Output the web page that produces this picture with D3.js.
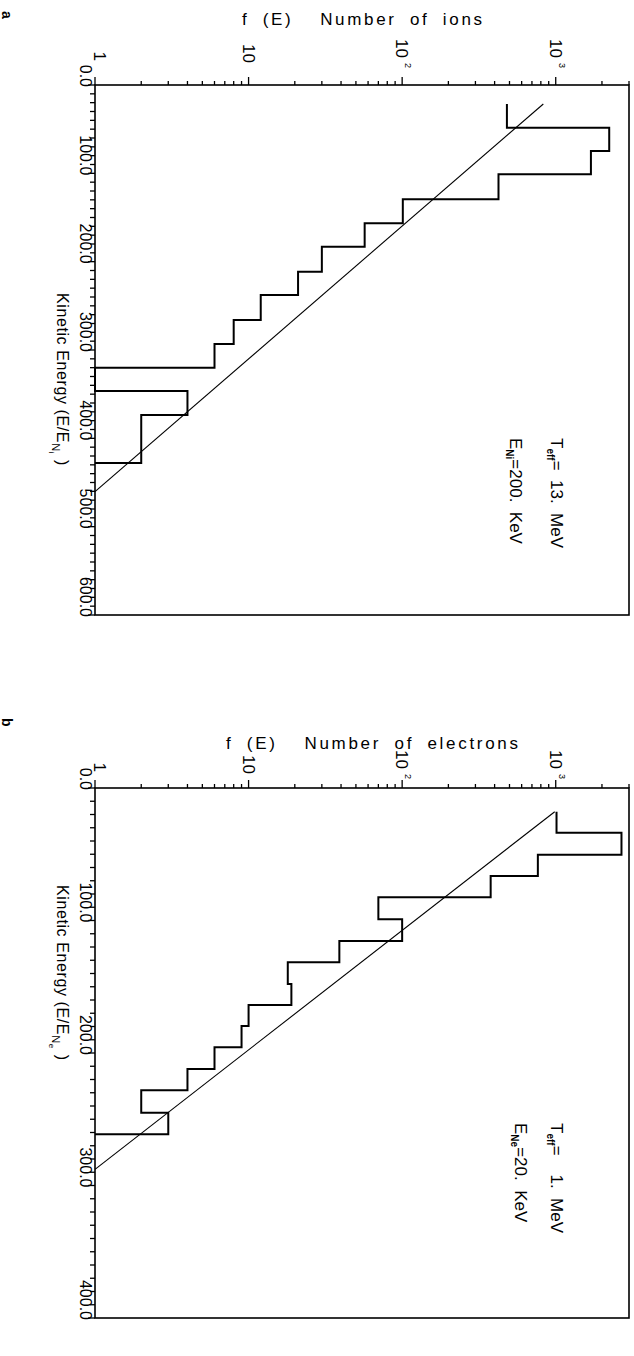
<!DOCTYPE html>
<html>
<head>
<meta charset="utf-8">
<script src="https://cdn.jsdelivr.net/npm/d3@7"></script>
<style>
  body { margin: 0; background: #fff; }
  svg { display: block; }
  text { font-family: "Liberation Sans", Arial, sans-serif; fill: #000; white-space: pre; }
</style>
</head>
<body>
<div id="chart"></div>
<script>
// ---- data ----
// panel a: ions, energy in units of E/E_Ni
const ionEdges = [21.5, 48.3, 74.7, 101.1, 129.4, 156.6, 183.1, 211.4, 237.7, 266.0, 293.2, 320.0, 346.4, 373.6, 400.8, 428.0];
const ionCounts = [481, 2230, 1695, 424, 101, 57, 30, 21, 12, 8, 6, 0, 4, 2, 2];
const ionFit = [[21.5, 830], [460.4, 1]];

// panel b: electrons, energy in units of E/E_Ne
const elecEdges = [17.9, 33.7, 50.3, 66.4, 82.5, 99.1, 115.5, 131.5, 147.9, 163.8, 179.6, 195.7, 212.1, 228.2, 245.1, 261.4];
const elecCounts = [1012, 2680, 765, 377, 70, 100, 39, 18, 19, 10, 9, 6, 4, 2, 3];
const elecFit = [[17.9, 985], [287.8, 1]];

const countTicks = [1, 10, 100, 1000];
const ionEnergyTicks = [0, 100, 200, 300, 400, 500, 600];
const elecEnergyTicks = [0, 100, 200, 300, 400];

const W = 634, H = 1356;
const svg = d3.select('#chart').append('svg')
  .attr('width', W)
  .attr('height', H);

function drawPanel(cfg) {
  const x = d3.scaleLog().domain([1, 3000]).range([95, 629]);
  const y = d3.scaleLinear().domain([0, cfg.eMax]).range([cfg.top, cfg.bottom]);
  const g = svg.append('g');

  // frame
  g.append('rect')
    .attr('x', x(1)).attr('y', cfg.top)
    .attr('width', x(3000) - x(1)).attr('height', cfg.bottom - cfg.top)
    .attr('fill', 'none').attr('stroke', '#000').attr('stroke-width', 1.6);

  // log (count) axis along the top, ticks pointing up
  const minor = [];
  for (let d = 1; d <= 1000; d *= 10) {
    for (let k = 1; k <= 9; k++) {
      if (d * k <= 3000) minor.push(d * k);
    }
  }
  g.selectAll('.ctick').data(minor).enter().append('line')
    .attr('x1', d => x(d)).attr('x2', d => x(d))
    .attr('y1', cfg.top)
    .attr('y2', d => countTicks.includes(d) ? cfg.top - 8 : cfg.top - 4)
    .attr('stroke', '#000').attr('stroke-width', 1.3);

  // log axis labels, rotated like the rest of the figure
  countTicks.forEach((v, i) => {
    const t = g.append('text')
      .attr('font-size', 17);
    if (i === 0) {
      t.attr('transform', 'translate(' + (x(v) - 1) + ',' + (cfg.top - cfg.labGap - 2) + ') rotate(90)')
        .attr('text-anchor', 'end')
        .text('1');
    } else if (i === 1) {
      t.attr('transform', 'translate(' + (x(v) - 6) + ',' + (cfg.top - cfg.labGap) + ') rotate(90)')
        .attr('text-anchor', 'end')
        .text('10');
    } else {
      t.attr('transform', 'translate(' + (x(v) - 6) + ',' + (cfg.top - cfg.labGap - 24) + ') rotate(90)');
      t.append('tspan').text('10');
      t.append('tspan').attr('font-size', 9).attr('dx', 5).attr('dy', -9).text(String(i));
    }
  });

  // energy axis along the left, ticks pointing left
  const eTicks = d3.range(0, cfg.eMax + 1, 10);
  g.selectAll('.etick').data(eTicks).enter().append('line')
    .attr('x1', x(1)).attr('x2', d => d % 100 === 0 ? x(1) - 7 : x(1) - 5)
    .attr('y1', d => y(d)).attr('y2', d => y(d))
    .attr('stroke', '#000').attr('stroke-width', 1.3);

  g.selectAll('.elabel').data(cfg.energyTicks).enter().append('text')
    .attr('transform', d => 'translate(80,' + (y(d) + 2) + ') rotate(90)')
    .attr('text-anchor', 'end')
    .attr('font-size', 16)
    .text(d => d3.format('.1f')(d));

  // histogram as a stepped outline
  const pts = [];
  cfg.counts.forEach((c, i) => {
    const v = Math.max(1, c);
    pts.push([x(v), y(cfg.edges[i])]);
    pts.push([x(v), y(cfg.edges[i + 1])]);
  });
  pts.push([x(1), y(cfg.edges[cfg.edges.length - 1])]);
  g.append('path')
    .attr('d', d3.line()(pts))
    .attr('fill', 'none').attr('stroke', '#000').attr('stroke-width', 2);

  // exponential fit, straight on the log scale
  g.append('path')
    .attr('d', d3.line().x(d => x(d[1])).y(d => y(d[0]))(cfg.fit))
    .attr('fill', 'none').attr('stroke', '#000').attr('stroke-width', 1.1);

  // title
  g.append('text')
    .attr('x', cfg.titleX).attr('y', cfg.titleY)
    .attr('font-size', 17)
    .attr('word-spacing', 6)
    .attr('textLength', cfg.titleLen)
    .attr('lengthAdjust', 'spacing')
    .text(cfg.title);

  g.append('text')
    .attr('transform', 'translate(2,' + cfg.tagY + ') rotate(90)')
    .attr('font-size', 14).attr('font-weight', 'bold')
    .text(cfg.tag);

  // energy axis title
  const et = g.append('text')
    .attr('transform', 'translate(57,' + cfg.axisY + ') rotate(90)')
    .attr('font-size', 16)
    .attr('letter-spacing', 0.6);
  et.append('tspan').text('Kinetic Energy (E/E');
  et.append('tspan').attr('font-size', 11).attr('dy', 5).text('N');
  et.append('tspan').attr('font-size', 8).attr('dy', 3).text(cfg.sub);
  et.append('tspan').attr('dy', -8).attr('dx', 6).text(')');

  // fit parameters
  const a1 = g.append('text')
    .attr('transform', 'translate(551,' + cfg.noteY + ') rotate(90)')
    .attr('font-size', 17);
  a1.append('tspan').text('T');
  a1.append('tspan').attr('font-size', 10).attr('dy', 4).attr('font-weight', 'bold').text('eff');
  a1.append('tspan').attr('dy', -4).text('=' + cfg.teff + '  MeV');

  const a2 = g.append('text')
    .attr('transform', 'translate(' + cfg.noteX2 + ',' + cfg.noteY + ') rotate(90)')
    .attr('font-size', 17);
  a2.append('tspan').text('E');
  a2.append('tspan').attr('font-size', 10).attr('dy', 4).attr('font-weight', 'bold').text('N' + cfg.sub);
  a2.append('tspan').attr('dy', -4).text('=' + cfg.en + '  KeV');
}

drawPanel({
  top: 85, bottom: 615, eMax: 600, energyTicks: ionEnergyTicks,
  edges: ionEdges, counts: ionCounts, fit: ionFit, labGap: 22,
  title: 'f (E)  Number of ions', titleX: 242, titleY: 25, titleLen: 240,
  tag: 'a', tagY: 11, axisY: 293, sub: 'i',
  noteY: 438, noteX2: 510, teff: '  13.', en: '200.'
});

drawPanel({
  top: 788, bottom: 1318, eMax: 400, energyTicks: elecEnergyTicks,
  edges: elecEdges, counts: elecCounts, fit: elecFit, labGap: 14,
  title: 'f (E)  Number of electrons', titleX: 226, titleY: 749, titleLen: 292,
  tag: 'b', tagY: 718, axisY: 885, sub: 'e',
  noteY: 1123, noteX2: 515, teff: '    1.', en: '20.'
});
</script>
</body>
</html>
